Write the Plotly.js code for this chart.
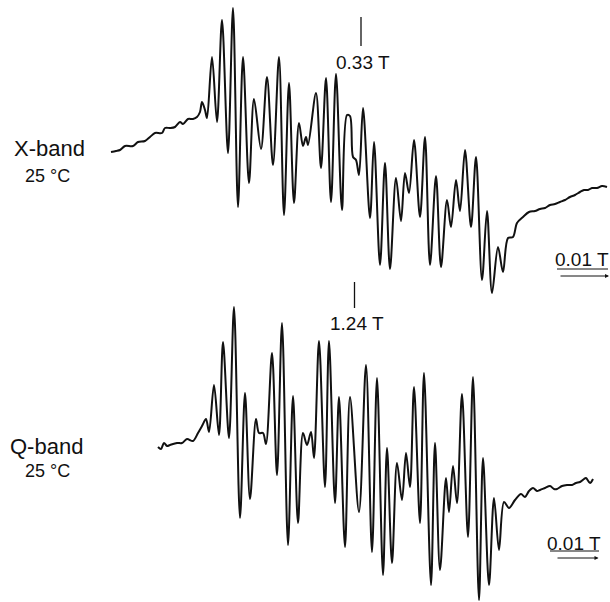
<!DOCTYPE html>
<html><head><meta charset="utf-8">
<script src="https://cdn.plot.ly/plotly-3.0.1.min.js"></script>
<style>html,body{margin:0;padding:0;background:#fff}</style>
</head><body><div id="plot" style="width:610px;height:602px"></div>
<script>
// X-band spectrum (25 °C): field in mT, derivative intensity (arb. units)
const xbandField = [280.0,281.0,281.8,282.8,284.4,285.4,286.8,287.8,288.8,290.2,290.8,291.8,292.8,293.8,294.4,295.4,296.4,297.2,297.8,298.2,298.8,299.2,300.2,301.2,302.2,303.4,304.4,305.4,306.4,307.6,308.6,310.0,311.2,312.4,313.6,314.6,315.6,316.6,317.6,318.4,319.0,319.4,321.0,322.0,323.0,324.0,325.0,326.2,327.2,327.8,328.4,329.0,329.6,330.4,331.8,332.6,333.8,334.8,335.8,337.0,338.0,338.8,339.6,340.6,341.8,342.8,343.8,345.0,346.0,347.2,348.0,349.0,349.8,350.8,352.0,353.0,354.2,355.2,356.2,357.4,358.4,359.4,360.4,361.2,362.4,363.6,364.8,365.8,366.8,367.8,368.8,369.8,370.8,371.8,372.8,373.8,374.6,375.4,376.2,377.2,378.2,379.2];
const xbandSignal = [-2,-1,0,4,4,8,9,13,17,17,22,22,23,28,26,31,31,33,38,48,40,32,93,28,130,-3,142,-57,93,-33,51,1,73,-15,93,-65,67,-53,27,4,13,5,57,-18,72,-52,76,-60,35,34,-7,-10,-25,42,-68,8,-115,-13,-119,-28,-71,-23,-43,10,-67,13,-115,-26,-117,-50,-77,-30,-61,0,-77,-7,-130,-61,-143,-97,-122,-88,-87,-73,-67,-62,-61,-59,-58,-55,-54,-52,-50,-47,-45,-42,-40,-40,-38,-38,-36,-37];

// Q-band spectrum (25 °C)
const qbandField = [1200.4,1201.0,1201.6,1202.2,1202.8,1204.2,1205.2,1206.2,1207.4,1208.4,1209.2,1210.0,1210.6,1211.6,1212.6,1213.4,1214.6,1215.6,1216.8,1217.8,1218.8,1220.0,1220.6,1221.4,1222.0,1223.2,1224.2,1225.2,1226.4,1227.4,1228.4,1229.4,1230.2,1231.0,1231.6,1232.6,1233.8,1234.6,1235.8,1236.6,1237.8,1238.8,1240.6,1242.0,1243.2,1244.2,1245.4,1246.2,1247.2,1248.2,1249.2,1250.0,1250.8,1251.6,1252.8,1253.6,1255.0,1255.8,1256.8,1258.0,1258.6,1259.4,1260.2,1261.2,1262.4,1263.4,1264.6,1265.4,1266.6,1267.6,1268.6,1269.6,1270.6,1271.8,1273.0,1273.8,1274.6,1275.4,1276.2,1276.8,1277.8,1278.8,1279.6,1280.2,1281.2,1282.2,1283.2,1284.0,1284.8,1285.6,1286.0,1286.8,1287.4];
const qbandSignal = [3,1,7,4,5,7,7,11,9,17,24,31,18,65,15,108,12,143,-68,57,-49,31,17,17,6,97,-25,127,-95,54,-73,17,5,18,-8,109,-37,109,-53,53,-97,53,-62,85,-102,72,-125,2,-113,-13,-50,-3,-37,63,-73,77,-135,7,-120,-28,-62,-16,-53,56,-87,73,-150,-8,-135,-48,-100,-52,-58,-50,-44,-47,-41,-38,-41,-40,-38,-36,-39,-39,-36,-35,-35,-33,-32,-29,-28,-33,-29];

// Labels
const bandLabels = ["X-band", "Q-band"];
const tempLabel = "25 °C";
const centerLabels = ["0.33 T", "1.24 T"];
const centerFields = [330, 1240];
const scaleLabel = "0.01 T";
const scaleLength = 10; // mT

const FONT = "Liberation Sans, Arial, sans-serif";
const lineStyle = {color: "#111", width: 2, shape: "spline", smoothing: 0.9};

const traces = [
  {x: xbandField, y: xbandSignal, xaxis: "x", yaxis: "y", mode: "lines", line: lineStyle, hoverinfo: "skip"},
  {x: qbandField, y: qbandSignal, xaxis: "x2", yaxis: "y2", mode: "lines", line: lineStyle, hoverinfo: "skip"}
];

function txt(xref, x, py, text, size) {
  return {xref: xref, yref: "paper", x: x, y: 1 - py/602, text: text, showarrow: false,
          xanchor: "center", yanchor: "middle", font: {family: FONT, size: size, color: "#111"}};
}

const ax = {visible: false, showgrid: false, zeroline: false, fixedrange: true};
const layout = {
  width: 610, height: 602,
  margin: {l: 0, r: 0, t: 0, b: 0},
  paper_bgcolor: "#fff", plot_bgcolor: "rgba(0,0,0,0)",
  showlegend: false,
  xaxis: Object.assign({}, ax, {range: [257.8, 379.8], domain: [0, 1], anchor: "y"}),
  yaxis: Object.assign({}, ax, {range: [-151, 150], domain: [0.5, 1], anchor: "x"}),
  xaxis2: Object.assign({}, ax, {range: [1168.8, 1290.8], domain: [0, 1], anchor: "y2"}),
  yaxis2: Object.assign({}, ax, {range: [-152, 149], domain: [0, 0.5], anchor: "x2"}),
  shapes: [
    {type: "line", xref: "x", yref: "paper", x0: centerFields[0], x1: centerFields[0], y0: 1 - 17/602, y1: 1 - 46/602, line: {color: "#111", width: 1.3}},
    {type: "line", xref: "x2", yref: "paper", x0: centerFields[1] - 0.3, x1: centerFields[1] - 0.3, y0: 1 - 282/602, y1: 1 - 308/602, line: {color: "#111", width: 1.3}},
    {type: "line", xref: "x", yref: "paper", x0: 369.2, x1: 379.4, y0: 1 - 269/602, y1: 1 - 269/602, line: {color: "#111", width: 1}},
    {type: "line", xref: "x2", yref: "paper", x0: 1278.8, x1: 1288.6, y0: 1 - 551/602, y1: 1 - 551/602, line: {color: "#111", width: 1}}
  ],
  annotations: [
    txt("paper", 50/610, 148, bandLabels[0], 22),
    txt("paper", 47/610, 176, tempLabel, 18),
    txt("paper", 46/610, 446, bandLabels[1], 22),
    txt("paper", 47/610, 471, tempLabel, 18),
    txt("x", centerFields[0] + 0.4, 62, centerLabels[0], 19),
    txt("x2", centerFields[1] + 0.2, 323, centerLabels[1], 19),
    txt("x", 374.2, 260, scaleLabel, 19),
    txt("x2", 1283.6, 543, scaleLabel, 19),
    {xref: "x", yref: "paper", x: 369.6 + scaleLength, y: 1 - 276/602, axref: "x", ayref: "paper", ax: 369.6, ay: 1 - 276/602, text: "", showarrow: true, arrowhead: 2, arrowsize: 0.8, arrowwidth: 1, arrowcolor: "#111"},
    {xref: "x2", yref: "paper", x: 1280.0 + scaleLength*0.85, y: 1 - 558/602, axref: "x2", ayref: "paper", ax: 1280.0, ay: 1 - 558/602, text: "", showarrow: true, arrowhead: 2, arrowsize: 0.8, arrowwidth: 1, arrowcolor: "#111"}
  ]
};

Plotly.newPlot("plot", traces, layout, {staticPlot: true, displayModeBar: false});
</script>
</body></html>
